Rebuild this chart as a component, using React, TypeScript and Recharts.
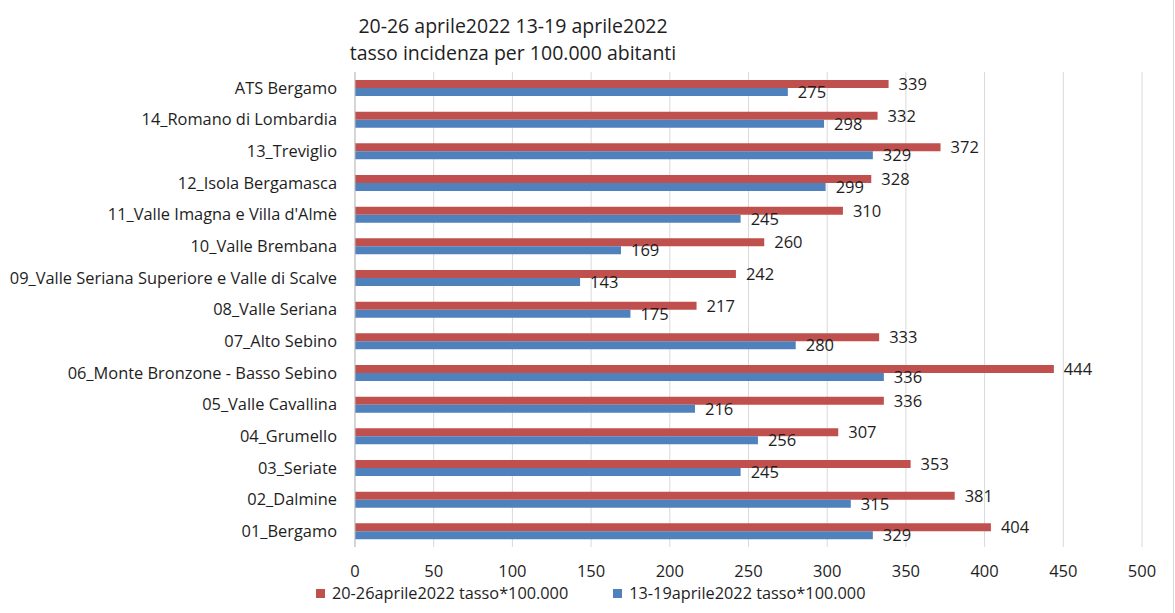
import { BarChart, Bar, XAxis, YAxis, CartesianGrid, LabelList } from 'recharts';

const districts = [
  'ATS Bergamo',
  '14_Romano di Lombardia',
  '13_Treviglio',
  '12_Isola Bergamasca',
  "11_Valle Imagna e Villa d'Almè",
  '10_Valle Brembana',
  '09_Valle Seriana Superiore e Valle di Scalve',
  '08_Valle Seriana',
  '07_Alto Sebino',
  '06_Monte Bronzone - Basso Sebino',
  '05_Valle Cavallina',
  '04_Grumello',
  '03_Seriate',
  '02_Dalmine',
  '01_Bergamo',
];

const rateApr20to26 = [339, 332, 372, 328, 310, 260, 242, 217, 333, 444, 336, 307, 353, 381, 404];
const rateApr13to19 = [275, 298, 329, 299, 245, 169, 143, 175, 280, 336, 216, 256, 245, 315, 329];

const xTicks = [0, 50, 100, 150, 200, 250, 300, 350, 400, 450, 500];

const seriesNames = ['20-26aprile2022 tasso*100.000', '13-19aprile2022 tasso*100.000'];
const colors = ['#c0504d', '#4f81bd'];

const data = districts.map((name, i) => ({
  name,
  recent: rateApr20to26[i],
  previous: rateApr13to19[i],
}));

const font = '"Open Sans", sans-serif';
const textColor = '#1e1e1e';

export default function App() {
  return (
    <div
      style={{
        position: 'absolute',
        left: 0,
        top: 0,
        width: 1175,
        height: 613,
        background: '#fff',
        fontFamily: font,
        color: textColor,
      }}
    >
      <div
        style={{
          position: 'absolute',
          left: 313,
          top: 12,
          width: 400,
          textAlign: 'center',
          fontSize: 19.5,
          lineHeight: '27px',
        }}
      >
        <div>20-26 aprile2022 13-19 aprile2022</div>
        <div>tasso incidenza per 100.000 abitanti</div>
      </div>

      {/* thin chart-area border on the right, as in the source */}
      <div style={{ position: 'absolute', left: 1173, top: 0, width: 1, height: 613, background: '#d9d9d9' }} />

      <BarChart
        width={1175}
        height={613}
        data={data}
        layout="vertical"
        margin={{ top: 72, right: 33, bottom: 36, left: 0 }}
        barSize={8}
        barGap={0}
        style={{ fontFamily: font }}
      >
        <CartesianGrid horizontal={false} stroke="#d9d9d9" />
        <XAxis
          type="number"
          domain={[0, 500]}
          ticks={xTicks}
          interval={0}
          axisLine={false}
          tickLine={false}
          tickSize={0}
          tickMargin={18}
          height={30}
          tick={{ fontSize: 16.5, fill: textColor }}
        />
        <YAxis
          type="category"
          dataKey="name"
          width={355}
          interval={0}
          axisLine={{ stroke: '#bfbfbf' }}
          tickLine={false}
          tickSize={0}
          tickMargin={18}
          tick={{ fontSize: 16.4, fill: textColor }}
        />
        <Bar dataKey="recent" name={seriesNames[0]} fill={colors[0]} isAnimationActive={false}>
          <LabelList dataKey="recent" position="right" offset={10} fontSize={16.5} fill={textColor} />
        </Bar>
        <Bar dataKey="previous" name={seriesNames[1]} fill={colors[1]} isAnimationActive={false}>
          <LabelList dataKey="previous" position="right" offset={10} fontSize={16.5} fill={textColor} />
        </Bar>
      </BarChart>

      <div
        style={{
          position: 'absolute',
          left: 316,
          top: 581,
          display: 'flex',
          alignItems: 'center',
          fontSize: 16.3,
          lineHeight: '24px',
          whiteSpace: 'nowrap',
        }}
      >
        {seriesNames.map((s, i) => (
          <div key={s} style={{ display: 'flex', alignItems: 'center', marginRight: i === 0 ? 45 : 0 }}>
            <span style={{ width: 9, height: 9, background: colors[i], marginRight: 7, display: 'inline-block' }} />
            <span>{s}</span>
          </div>
        ))}
      </div>
    </div>
  );
}
